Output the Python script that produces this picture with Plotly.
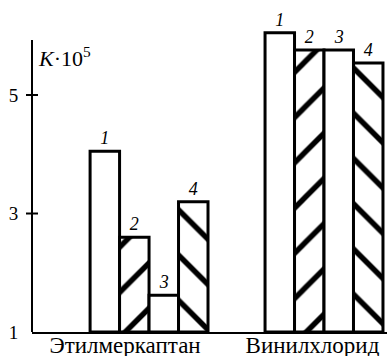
import plotly.graph_objects as go

categories = ["Этилмеркаптан", "Винилхлорид"]
series_names = ["1", "2", "3", "4"]
values_1 = [4.05, 6.05]
values_2 = [2.6, 5.76]
values_3 = [1.62, 5.76]
values_4 = [3.2, 5.54]
y_tick_vals = [1, 3, 5]
y_tick_text = ["1", "3", "5"]

series = [values_1, values_2, values_3, values_4]
patterns = ["", "/", "", "\\"]

x_pos = [0, 1]
label_pos = [-0.137, 0.934]

Y_RANGE = [1, 6.3]
SERIF = "Liberation Serif, Times New Roman, serif"

fig = go.Figure()
for name, vals, pat in zip(series_names, series, patterns):
    fig.add_trace(go.Bar(
        x=x_pos, y=[v - 1 for v in vals], base=1,
        name=name,
        text=[name] * len(vals),
        textposition="outside",
        textfont=dict(family=SERIF, size=18, color="black", style="italic"),
        cliponaxis=False,
        marker=dict(
            color="white",
            line=dict(color="black", width=3),
            pattern=dict(shape=pat, fgcolor="black", bgcolor="white", size=32,
                         solidity=0.17, fgopacity=1),
        ),
        showlegend=False,
    ))

fig.update_layout(
    width=387, height=356,
    margin=dict(l=32, r=0, t=18, b=24, autoexpand=False),
    paper_bgcolor="white", plot_bgcolor="white",
    barmode="group", bargap=0.326, bargroupgap=0,
    xaxis=dict(
        range=[-0.669, 1.36], showgrid=False, zeroline=False, automargin=False,
        showline=True, linecolor="black", linewidth=2,
        tickmode="array", tickvals=label_pos, ticktext=categories,
        ticks="", ticklabelstandoff=-9,
        tickfont=dict(family=SERIF, size=23, color="black"),
    ),
    yaxis=dict(
        range=Y_RANGE, showgrid=False, zeroline=False, showline=False, automargin=False,
        tickmode="array", tickvals=y_tick_vals, ticktext=y_tick_text,
        ticks="outside", ticklen=9, tickcolor="rgba(0,0,0,0)",
        tickfont=dict(family=SERIF, size=19, color="black"),
    ),
)

def ypaper(v):
    return (v - Y_RANGE[0]) / (Y_RANGE[1] - Y_RANGE[0])

# y axis line (shorter than plot area)
fig.add_shape(type="line", xref="paper", yref="paper", x0=0, x1=0, y0=0, y1=ypaper(5.93),
              line=dict(color="black", width=2))
# tick crosses at 3 and 5
for tv in [3, 5]:
    fig.add_shape(type="line", xref="paper", yref="paper", x0=-6 / 355, x1=6 / 355,
                  y0=ypaper(tv), y1=ypaper(tv), line=dict(color="black", width=2),
                  layer="above")

fig.add_annotation(
    xref="paper", yref="paper", x=0, y=ypaper(5.64), xshift=4, xanchor="left", yanchor="middle",
    text="<i>K</i>·10<sup>5</sup>", showarrow=False,
    font=dict(family=SERIF, size=22, color="black"),
)

fig.write_html(
    "out.html",
    config={"displayModeBar": False},
    post_script="document.body.style.margin='0';document.body.style.overflow='hidden';",
)
